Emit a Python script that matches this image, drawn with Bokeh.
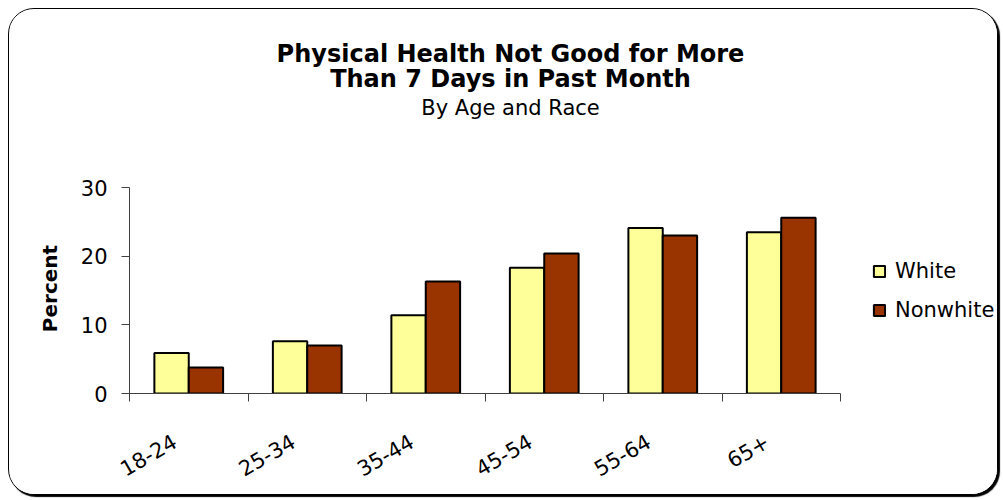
from bokeh.plotting import figure
from bokeh.models import Range1d, FixedTicker, Legend, LegendItem, Label, ColumnDataSource, CustomJSTickFormatter
from bokeh.transform import dodge
from bokeh.embed import file_html
from bokeh.resources import INLINE
import math

categories = ["18-24", "25-34", "35-44", "45-54", "55-64", "65+"]
white = [5.9, 7.6, 11.4, 18.3, 24.1, 23.5]
nonwhite = [3.8, 7.0, 16.3, 20.4, 23.0, 25.6]
y_ticks = [0, 10, 20, 30]
y_max = 30
y_label = "Percent"
title_lines = ["Physical Health Not Good for More", "Than 7 Days in Past Month"]
subtitle = "By Age and Race"

FONT = "DejaVu Sans"
W, H = 990, 487
# pixel layout (figure coordinates)
AX_LEFT, AX_RIGHT = 120, 831      # category axis extent
AX_TOP, AX_BOTTOM = 178, 384      # value axis extent (y_max .. 0)
LABEL_SHIFT = 0.12
YLABEL_PAD = 25                   # non-breaking spaces that move the axis title down

n = len(categories)
px_per_cat = (AX_RIGHT - AX_LEFT) / n
px_per_val = (AX_BOTTOM - AX_TOP) / y_max
x_end = -0.5 + (W - AX_LEFT) / px_per_cat
y_end = y_max + AX_TOP / px_per_val

src = ColumnDataSource(dict(x=list(range(n)), white=white, nonwhite=nonwhite))

p = figure(width=W, height=H, output_backend="svg", toolbar_location=None, title=None,
           x_range=Range1d(-0.5, x_end), y_range=Range1d(0, y_end),
           min_border_left=AX_LEFT, min_border_right=0, min_border_top=0,
           min_border_bottom=H - AX_BOTTOM)
p.styles = {"border": "1px solid black", "border-radius": "26px", "box-shadow": "2px 2px 1px black",
            "background": "white", "margin-left": "8px", "margin-top": "8px", "overflow": "hidden"}
p.outline_line_color = None
p.xgrid.visible = False
p.ygrid.visible = False
p.background_fill_color = "white"
p.border_fill_color = "white"

bw = 0.29
r1 = p.vbar(x=dodge("x", -bw / 2), top="white", width=bw, bottom=0, source=src,
            fill_color="#FFFF99", line_color="black", line_width=2)
r2 = p.vbar(x=dodge("x", bw / 2), top="nonwhite", width=bw, bottom=0, source=src,
            fill_color="#993300", line_color="black", line_width=2)

xa = p.xaxis[0]
xa.bounds = (-0.5, n - 0.5)
xa.ticker = FixedTicker(ticks=[i - LABEL_SHIFT for i in range(n)],
                        minor_ticks=[i - 0.5 for i in range(n + 1)])
xa.formatter = CustomJSTickFormatter(args=dict(cats=categories, sh=LABEL_SHIFT),
                                     code="const c = cats[Math.round(tick + sh)]; return c === undefined ? '' : c;")
xa.major_tick_line_color = None
xa.minor_tick_line_color = "#404040"
xa.minor_tick_out = 8
xa.minor_tick_in = 0
xa.axis_line_color = "#404040"
xa.major_label_orientation = math.pi / 6
xa.major_label_text_font = FONT
xa.major_label_text_font_size = "21px"
xa.major_label_text_color = "black"
xa.major_label_standoff = 38

ya = p.yaxis[0]
ya.bounds = (0, y_max)
ya.ticker = FixedTicker(ticks=y_ticks, minor_ticks=[])
ya.major_tick_out = 8
ya.major_tick_in = 0
ya.major_tick_line_color = "#404040"
ya.axis_line_color = "#404040"
ya.major_label_text_font = FONT
ya.major_label_text_font_size = "21px"
ya.major_label_text_color = "black"
ya.major_label_standoff = 14
ya.axis_label = y_label + "\u00a0" * YLABEL_PAD
ya.axis_label_text_font = FONT
ya.axis_label_text_font_size = "20px"
ya.axis_label_text_font_style = "bold"
ya.axis_label_text_color = "black"
ya.axis_label_standoff = 16

legend = Legend(items=[LegendItem(label="White", renderers=[r1]),
                       LegendItem(label="Nonwhite", renderers=[r2])],
                location=(743, 71), padding=0, margin=0, spacing=15,
                glyph_width=14, glyph_height=14, label_standoff=9,
                label_text_font=FONT, label_text_font_size="21px", label_text_color="black",
                border_line_color=None, background_fill_alpha=0)
p.add_layout(legend)

cx = 381
for txt, yb, size, style in [(title_lines[0], 340, "24px", "bold"),
                             (title_lines[1], 315, "24px", "bold"),
                             (subtitle, 286, "21px", "normal")]:
    p.add_layout(Label(x=cx, y=yb, x_units="screen", y_units="screen", text=txt,
                       text_font=FONT, text_font_size=size, text_font_style=style,
                       text_align="center", text_baseline="alphabetic", text_color="black"))

open("out.html", "w").write(file_html(p, INLINE))
